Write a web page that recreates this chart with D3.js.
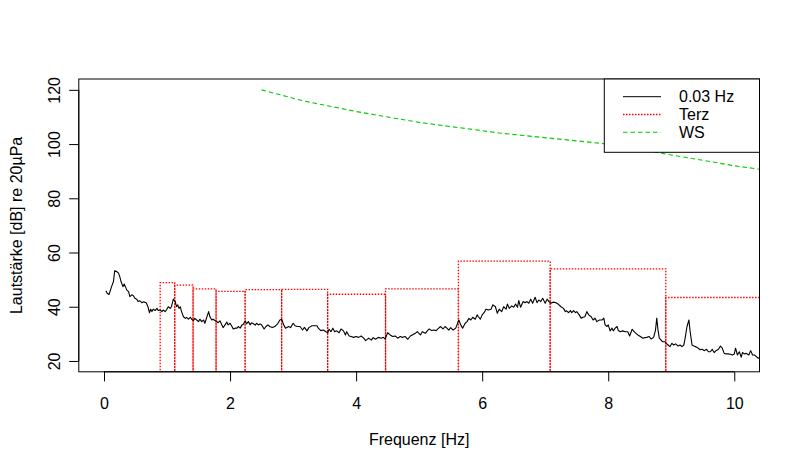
<!DOCTYPE html>
<html>
<head>
<meta charset="utf-8">
<script src="https://cdn.jsdelivr.net/npm/d3@7"></script>
<style>
  html, body { margin: 0; padding: 0; background: #fff; }
  svg { display: block; font-family: "Liberation Sans", Arial, Helvetica, sans-serif; }
</style>
</head>
<body>
<svg id="chart" width="800" height="470"></svg>
<script>
// ---- data ----
const specFreq = [0.03,0.05,0.08,0.12,0.15,0.17,0.20,0.23,0.25,0.27,0.30,0.32,0.34,0.36,0.39,0.41,0.44,0.47,0.49,0.52,0.54,0.57,0.60,0.63,0.67,0.70,0.72,0.74,0.76,0.78,0.81,0.84,0.86,0.89,0.92,0.94,0.97,0.99,1.02,1.05,1.07,1.10,1.13,1.15,1.17,1.19,1.21,1.23,1.26,1.29,1.31,1.34,1.37,1.39,1.42,1.44,1.47,1.50,1.52,1.55,1.58,1.60,1.63,1.66,1.68,1.71,1.73,1.76,1.79,1.81,1.84,1.87,1.89,1.92,1.95,1.97,2.00,2.03,2.05,2.08,2.11,2.13,2.16,2.19,2.21,2.24,2.26,2.29,2.32,2.34,2.37,2.40,2.42,2.45,2.48,2.50,2.54,2.57,2.60,2.63,2.67,2.71,2.76,2.79,2.82,2.85,2.88,2.93,2.96,3.00,3.03,3.07,3.11,3.15,3.18,3.22,3.25,3.30,3.34,3.38,3.40,3.44,3.48,3.52,3.55,3.57,3.60,3.63,3.66,3.69,3.73,3.76,3.80,3.83,3.85,3.89,3.92,3.96,4.00,4.04,4.08,4.12,4.15,4.20,4.24,4.27,4.31,4.35,4.40,4.43,4.46,4.50,4.54,4.58,4.62,4.66,4.70,4.73,4.78,4.82,4.86,4.89,4.94,4.97,5.02,5.05,5.10,5.13,5.16,5.20,5.23,5.27,5.31,5.34,5.38,5.41,5.44,5.47,5.50,5.54,5.58,5.60,5.63,5.66,5.69,5.73,5.76,5.79,5.82,5.85,5.89,5.92,5.94,5.97,6.00,6.03,6.06,6.10,6.14,6.17,6.21,6.24,6.27,6.31,6.34,6.38,6.40,6.43,6.47,6.50,6.53,6.56,6.58,6.61,6.65,6.68,6.71,6.74,6.77,6.80,6.84,6.87,6.90,6.93,6.96,7.00,7.03,7.06,7.09,7.13,7.17,7.21,7.25,7.29,7.32,7.34,7.37,7.40,7.42,7.45,7.48,7.50,7.54,7.57,7.60,7.63,7.66,7.69,7.73,7.76,7.79,7.82,7.86,7.90,7.93,7.95,7.98,8.00,8.03,8.06,8.08,8.11,8.14,8.16,8.19,8.23,8.27,8.31,8.34,8.38,8.41,8.44,8.47,8.51,8.55,8.58,8.61,8.65,8.68,8.72,8.75,8.77,8.79,8.81,8.84,8.86,8.90,8.92,8.95,8.98,9.01,9.04,9.07,9.11,9.14,9.17,9.20,9.22,9.25,9.28,9.30,9.33,9.36,9.40,9.43,9.46,9.49,9.52,9.56,9.59,9.62,9.65,9.68,9.71,9.75,9.78,9.81,9.84,9.87,9.90,9.94,9.97,10.00,10.02,10.05,10.08,10.11,10.13,10.16,10.19,10.23,10.26,10.29,10.32,10.35,10.38,10.41,10.45];
const specLevel = [45.9,45.0,44.5,47.4,49.3,53.3,53.0,52.4,51.1,49.3,47.4,48.4,47.4,46.2,45.6,43.7,44.4,44.0,43.1,42.8,41.9,42.2,41.5,41.8,41.5,39.8,37.8,39.1,38.2,39.1,38.6,39.4,38.6,38.8,38.2,38.8,38.2,38.8,40.0,39.4,40.0,42.8,41.9,40.0,40.7,39.4,40.0,38.2,36.3,35.7,36.1,35.4,36.1,35.4,34.9,35.7,35.1,34.5,35.4,34.5,35.1,33.9,36.1,38.2,36.3,35.1,35.4,34.9,34.5,34.1,34.8,33.3,32.3,33.3,34.3,33.3,33.9,32.7,31.8,32.1,32.1,32.7,32.1,33.3,33.5,34.8,33.7,34.5,33.3,34.1,33.7,33.2,33.9,33.3,33.7,33.3,31.8,32.7,33.3,32.7,32.3,32.7,33.9,35.1,35.4,33.3,32.1,32.7,32.3,33.9,33.0,32.7,32.7,31.4,32.4,31.1,32.3,33.0,33.0,33.0,32.1,31.2,31.4,30.8,30.4,31.7,30.8,32.1,30.8,31.1,30.4,31.8,31.1,29.6,30.8,29.2,29.0,28.7,29.0,28.7,29.2,28.4,27.5,28.4,27.7,28.6,28.0,28.7,28.4,28.7,28.1,30.4,29.6,29.0,29.2,28.4,29.0,28.7,29.0,28.0,29.2,29.6,30.2,30.8,29.6,30.8,30.2,31.1,31.8,31.2,31.4,31.2,32.1,32.7,31.8,32.7,32.1,31.4,32.3,31.4,32.1,33.3,35.1,33.3,32.1,33.9,34.5,35.7,35.1,36.1,35.4,37.0,36.3,35.4,37.0,37.8,39.1,38.8,39.1,40.7,40.0,37.6,39.1,38.2,40.0,39.1,41.0,39.4,40.3,39.8,41.0,39.8,42.3,39.8,41.9,41.5,41.9,41.3,42.8,41.3,43.5,41.5,42.5,41.9,43.1,41.3,42.8,41.9,41.3,41.7,41.5,40.9,40.0,39.4,38.2,38.5,37.8,38.6,37.8,38.6,37.8,38.2,37.0,35.8,36.1,36.3,38.2,37.0,36.3,35.1,35.8,34.5,35.1,35.1,35.8,33.3,32.7,33.3,31.1,32.1,31.1,32.1,32.7,31.2,30.8,31.1,30.8,30.8,29.2,31.7,30.8,30.2,29.6,29.0,28.4,28.6,28.7,29.0,28.1,28.7,31.4,35.8,31.4,28.4,27.7,27.1,27.1,26.5,25.9,25.3,26.5,25.9,26.3,25.5,25.9,25.3,25.9,28.4,32.7,35.1,30.8,25.9,25.5,25.1,24.7,24.1,24.3,23.8,24.3,23.4,23.4,24.3,23.1,23.8,24.3,25.5,24.7,22.8,22.6,22.6,22.5,22.2,22.6,24.7,22.2,23.4,21.4,23.1,22.6,22.8,22.2,23.8,22.2,22.2,21.6,21.0,21.4,21.0];

// third-octave (Terz) bands: lower edge, upper edge, level
const terzLow   = [0.891,1.122,1.413,1.778,2.239,2.818,3.548,4.467,5.623,7.079,8.913];
const terzHigh  = [1.122,1.413,1.778,2.239,2.818,3.548,4.467,5.623,7.079,8.913,11.22];
const terzLevel = [48.9,48.0,46.6,45.7,46.3,46.4,44.6,46.6,56.8,54.0,43.4];

// perception threshold (WS)
const wsFreq  = [2.5,3.15,4,5,6.3,8,10,12.5];
const wsLevel = [120,116,112,108,104,100,92,84];

const xTicks = [0,2,4,6,8,10];
const yTicks = [20,40,60,80,100,120];
const legendLabels = ["0.03 Hz","Terz","WS"];

// ---- layout ----
const svg = d3.select("#chart");
const L = 78.8, R = 759.5, T = 79.0, B = 371.8;
const x = d3.scaleLinear().domain([-0.4, 10.4]).range([L, R]);
const y = d3.scaleLinear().domain([16, 124]).range([B, T]);
const FONT = 16;

svg.append("defs").append("clipPath").attr("id","clip")
  .append("rect").attr("x", L).attr("y", T).attr("width", R - L).attr("height", B - T);

const plot = svg.append("g").attr("clip-path","url(#clip)");

// Terz rectangles (dotted red)
const terz = terzLow.map((lo, i) => ({lo, hi: terzHigh[i], v: terzLevel[i]}));
plot.selectAll("path.terz").data(terz).enter().append("path")
  .attr("class","terz")
  .attr("d", d => `M${x(d.lo)},${y(0)}V${y(d.v)}H${x(d.hi)}V${y(0)}`)
  .attr("fill","none").attr("stroke","#ff0000").attr("stroke-width",1.3)
  .attr("stroke-dasharray","1.5,1.5");

// spectrum line
const spec = specFreq.map((f, i) => [f, specLevel[i]]);
plot.append("path").datum(spec)
  .attr("d", d3.line().x(d => x(d[0])).y(d => y(d[1])))
  .attr("fill","none").attr("stroke","#000").attr("stroke-width",1.1)
  .attr("stroke-linejoin","round");

// WS line
const ws = wsFreq.map((f, i) => [f, wsLevel[i]]);
plot.append("path").datum(ws)
  .attr("d", d3.line().x(d => x(d[0])).y(d => y(d[1])))
  .attr("fill","none").attr("stroke","#00cd00").attr("stroke-width",1.1)
  .attr("stroke-dasharray","4.5,3");

// axes
const xAxis = d3.axisBottom(x).tickValues(xTicks).tickSize(9.6).tickPadding(4).tickSizeOuter(0);
const gx = svg.append("g").attr("transform", `translate(0,${B})`).call(xAxis);
gx.select(".domain").attr("d", `M${x(0)},0H${x(10)}`).attr("stroke","#000");
gx.selectAll(".tick line").attr("stroke","#000");
gx.selectAll(".tick text").attr("font-size", FONT).attr("fill","#000")
  .attr("font-family","Liberation Sans, Arial, sans-serif")
  .attr("dy", null).attr("y", 32).attr("dominant-baseline","central");

const yAxis = d3.axisLeft(y).tickValues(yTicks).tickSize(9.6).tickSizeOuter(0);
const gy = svg.append("g").attr("transform", `translate(${L},0)`).call(yAxis);
gy.select(".domain").attr("d", `M0,${y(20)}V${y(120)}`).attr("stroke","#000");
gy.selectAll(".tick line").attr("stroke","#000");
gy.selectAll(".tick text").attr("font-size", FONT).attr("fill","#000")
  .attr("font-family","Liberation Sans, Arial, sans-serif")
  .attr("x", null).attr("dy", null).attr("y", null)
  .attr("text-anchor","middle").attr("dominant-baseline","central")
  .attr("transform","translate(-24,0) rotate(-90)");

// box
svg.append("rect").attr("x", L).attr("y", T).attr("width", R - L).attr("height", B - T)
  .attr("fill","none").attr("stroke","#000").attr("stroke-width",1);

// axis titles
svg.append("text").attr("x", (L + R) / 2).attr("y", 439)
  .attr("text-anchor","middle").attr("dominant-baseline","central")
  .attr("font-size", FONT).text("Frequenz [Hz]");
svg.append("text").attr("transform", `translate(16,${(T + B) / 2}) rotate(-90)`)
  .attr("text-anchor","middle").attr("dominant-baseline","central")
  .attr("font-size", FONT).text("Lautstärke [dB] re 20µPa");

// legend
const lg = svg.append("g");
lg.append("rect").attr("x", 604.3).attr("y", T).attr("width", R - 604.3).attr("height", 152.3 - T)
  .attr("fill","#fff").attr("stroke","#000").attr("stroke-width",1);
const legendStyles = [
  {stroke:"#000000", dash:null, w:1},
  {stroke:"#ff0000", dash:"1.5,1.5", w:1.3},
  {stroke:"#00cd00", dash:"4.5,3", w:1.1}
];
const rowY = [96.7, 114.5, 132.3];
legendLabels.forEach((lab, i) => {
  lg.append("line").attr("x1", 623).attr("x2", 661).attr("y1", rowY[i]).attr("y2", rowY[i])
    .attr("stroke", legendStyles[i].stroke).attr("stroke-width", legendStyles[i].w)
    .attr("stroke-dasharray", legendStyles[i].dash);
  lg.append("text").attr("x", 679).attr("y", rowY[i]).attr("dominant-baseline","central")
    .attr("font-size", FONT).text(lab);
});
</script>
</body>
</html>
